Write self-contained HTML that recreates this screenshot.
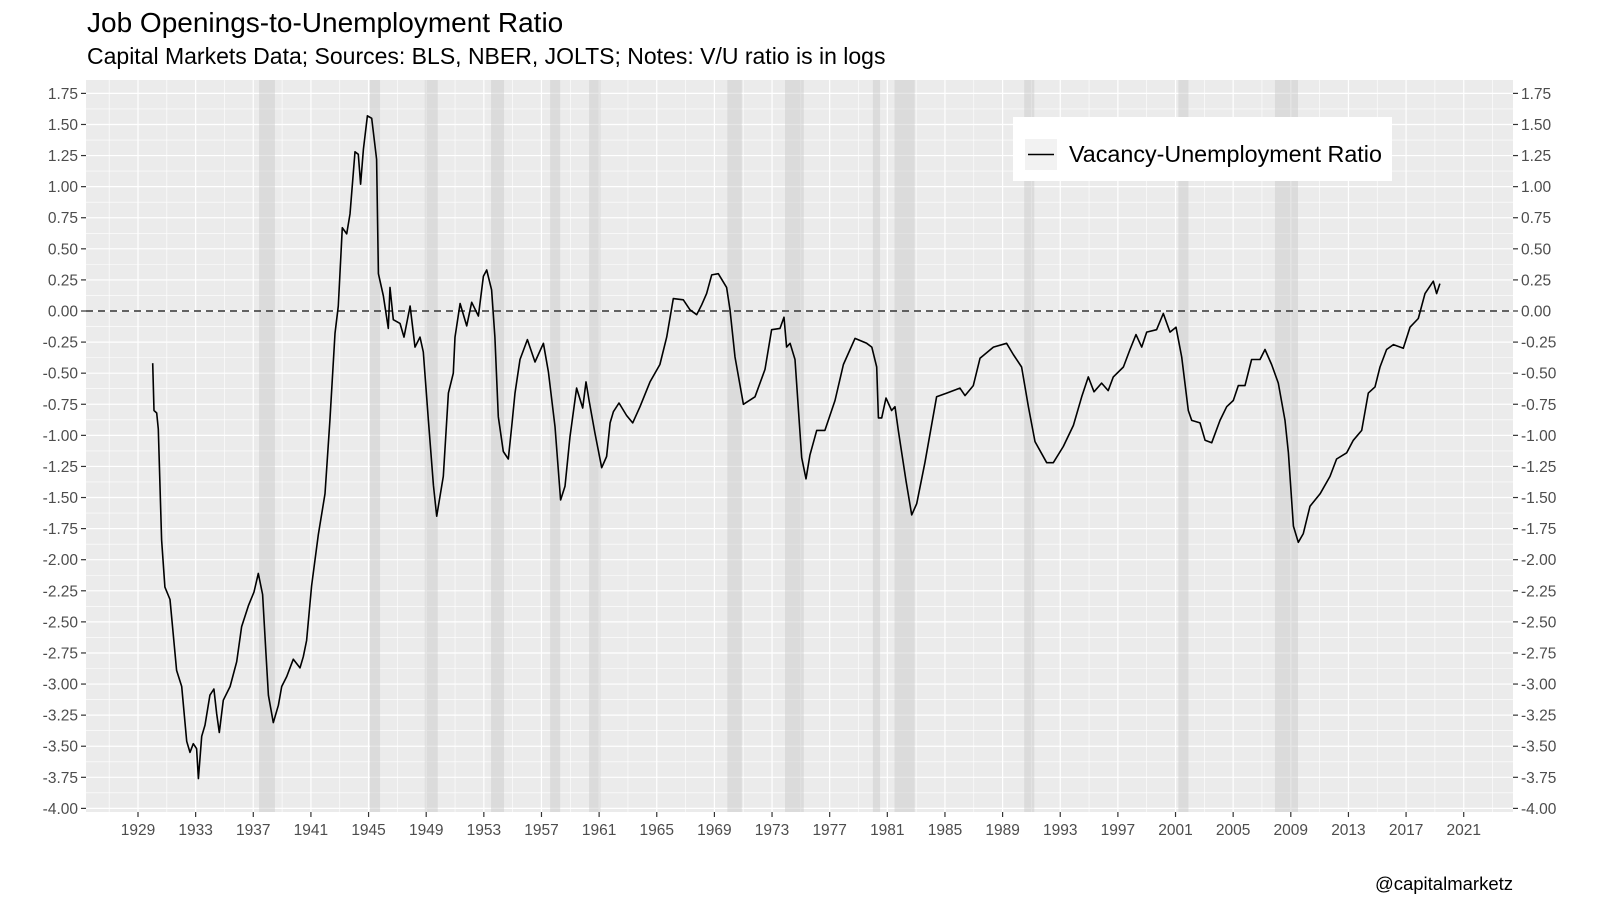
<!DOCTYPE html>
<html><head><meta charset="utf-8"><style>
html,body{margin:0;padding:0;background:#fff;}
svg{display:block;font-family:"Liberation Sans",Arial,sans-serif;}
</style></head><body>
<svg id="chart" width="1600" height="905" viewBox="0 0 1600 905" xmlns="http://www.w3.org/2000/svg">
<text x="87" y="32" font-size="28" fill="#000">Job Openings-to-Unemployment Ratio</text>
<text x="87" y="64" font-size="23" fill="#000">Capital Markets Data; Sources: BLS, NBER, JOLTS; Notes: V/U ratio is in logs</text>
<rect x="86" y="80" width="1427" height="732" fill="#ebebeb"/>
<g id="grid"></g>
<g id="rec"></g>
<line x1="86" x2="1513" y1="311" y2="311" stroke="#333" stroke-width="1.5" stroke-dasharray="7,5"/>
<path id="series" fill="none" stroke="#000" stroke-width="1.6" stroke-linejoin="round"/>
<g id="axes"></g>
<g>
<rect x="1013" y="117" width="379" height="64" fill="#fff"/>
<rect x="1025" y="139" width="32" height="31" fill="#f2f2f2"/>
<line x1="1028" x2="1054" y1="154.5" y2="154.5" stroke="#000" stroke-width="1.6"/>
<text x="1069" y="162" font-size="23.3" fill="#000">Vacancy-Unemployment Ratio</text>
</g>
<text x="1513" y="890" font-size="18.5" text-anchor="end" fill="#000">@capitalmarketz</text>
</svg>
<script>
const years = [1930.02,1930.11,1930.3,1930.41,1930.64,1930.87,1931.22,1931.68,1932.03,1932.38,1932.61,1932.84,1933.07,1933.19,1933.42,1933.65,1933.99,1934.27,1934.46,1934.64,1934.92,1935.39,1935.85,1936.19,1936.66,1937.05,1937.35,1937.65,1937.88,1938.05,1938.39,1938.74,1938.97,1939.32,1939.78,1940.24,1940.47,1940.7,1941.05,1941.51,1941.98,1942.32,1942.67,1942.9,1943.18,1943.48,1943.71,1944.06,1944.29,1944.45,1944.64,1944.92,1945.22,1945.56,1945.68,1946.03,1946.37,1946.49,1946.72,1947.18,1947.46,1947.88,1948.22,1948.57,1948.8,1949.15,1949.5,1949.73,1950.19,1950.54,1950.88,1951.0,1951.35,1951.81,1952.16,1952.62,1952.97,1953.2,1953.54,1953.77,1954.0,1954.35,1954.7,1954.93,1955.16,1955.51,1956.02,1956.55,1957.13,1957.48,1957.94,1958.33,1958.63,1958.98,1959.44,1959.86,1960.09,1960.32,1960.71,1961.18,1961.52,1961.76,1961.99,1962.38,1962.91,1963.33,1963.84,1964.53,1965.22,1965.69,1966.15,1966.84,1967.31,1967.77,1968.12,1968.46,1968.81,1969.27,1969.85,1970.08,1970.43,1971.01,1971.82,1972.51,1972.97,1973.55,1973.83,1974.01,1974.25,1974.59,1975.06,1975.36,1975.63,1976.1,1976.67,1977.37,1977.95,1978.76,1979.57,1979.92,1980.26,1980.38,1980.61,1980.91,1981.3,1981.53,1981.76,1982.3,1982.69,1983.04,1983.61,1984.42,1985.12,1986.04,1986.39,1986.97,1987.43,1988.36,1989.28,1989.74,1990.32,1990.79,1991.25,1992.06,1992.52,1993.21,1993.91,1994.49,1994.95,1995.34,1995.87,1996.33,1996.68,1997.38,1997.84,1998.26,1998.65,1999.0,1999.69,2000.15,2000.62,2001.03,2001.43,2001.89,2002.12,2002.7,2003.05,2003.51,2004.09,2004.55,2005.01,2005.36,2005.82,2006.28,2006.86,2007.21,2007.67,2008.13,2008.6,2008.83,2009.18,2009.52,2009.87,2010.33,2011.03,2011.72,2012.18,2012.88,2013.34,2013.92,2014.38,2014.84,2015.19,2015.65,2016.12,2016.81,2017.27,2017.85,2018.31,2018.89,2019.12,2019.35];
const ratio = [-0.42,-0.8,-0.82,-0.95,-1.84,-2.22,-2.32,-2.89,-3.02,-3.46,-3.55,-3.48,-3.52,-3.76,-3.42,-3.33,-3.09,-3.04,-3.24,-3.39,-3.13,-3.02,-2.82,-2.54,-2.37,-2.26,-2.11,-2.28,-2.76,-3.09,-3.31,-3.17,-3.02,-2.94,-2.8,-2.87,-2.78,-2.65,-2.21,-1.8,-1.47,-0.88,-0.18,0.04,0.67,0.62,0.78,1.28,1.26,1.02,1.3,1.57,1.55,1.22,0.3,0.12,-0.14,0.19,-0.07,-0.1,-0.21,0.04,-0.29,-0.21,-0.33,-0.88,-1.4,-1.65,-1.33,-0.66,-0.5,-0.21,0.06,-0.12,0.07,-0.04,0.28,0.33,0.17,-0.21,-0.85,-1.13,-1.19,-0.93,-0.66,-0.39,-0.23,-0.41,-0.26,-0.49,-0.93,-1.52,-1.41,-1.01,-0.62,-0.78,-0.57,-0.73,-0.98,-1.26,-1.17,-0.9,-0.81,-0.74,-0.84,-0.9,-0.77,-0.57,-0.43,-0.21,0.1,0.09,0.01,-0.03,0.05,0.14,0.29,0.3,0.19,0.01,-0.37,-0.75,-0.69,-0.47,-0.15,-0.14,-0.05,-0.29,-0.26,-0.39,-1.18,-1.35,-1.16,-0.96,-0.96,-0.72,-0.43,-0.22,-0.26,-0.29,-0.45,-0.86,-0.86,-0.7,-0.8,-0.77,-0.96,-1.37,-1.64,-1.55,-1.22,-0.69,-0.66,-0.62,-0.68,-0.6,-0.38,-0.29,-0.26,-0.35,-0.45,-0.77,-1.05,-1.22,-1.22,-1.09,-0.92,-0.69,-0.53,-0.65,-0.58,-0.64,-0.53,-0.45,-0.31,-0.19,-0.29,-0.17,-0.15,-0.02,-0.17,-0.13,-0.37,-0.8,-0.88,-0.9,-1.04,-1.06,-0.88,-0.77,-0.72,-0.6,-0.6,-0.39,-0.39,-0.31,-0.43,-0.58,-0.88,-1.14,-1.73,-1.86,-1.79,-1.57,-1.47,-1.33,-1.19,-1.14,-1.04,-0.96,-0.66,-0.61,-0.45,-0.31,-0.27,-0.3,-0.13,-0.06,0.14,0.24,0.14,0.22];
const recStart = [1937.4,1945.1,1948.9,1953.5,1957.6,1960.3,1969.9,1973.9,1980.0,1981.5,1990.5,2001.2,2007.9];
const recEnd = [1938.5,1945.8,1949.8,1954.4,1958.3,1961.1,1970.9,1975.2,1980.5,1982.9,1991.2,2001.9,2009.5];
const xTicks = [1929,1933,1937,1941,1945,1949,1953,1957,1961,1965,1969,1973,1977,1981,1985,1989,1993,1997,2001,2005,2009,2013,2017,2021];
const yTicks = [1.75,1.5,1.25,1,0.75,0.5,0.25,0,-0.25,-0.5,-0.75,-1,-1.25,-1.5,-1.75,-2,-2.25,-2.5,-2.75,-3,-3.25,-3.5,-3.75,-4];

const NS='http://www.w3.org/2000/svg';
const L=86,R=1513,T=80,B=812;
const xs=y=>138+(y-1929)*14.41;
const ys=v=>311-v*124.35;
function mk(tag,attrs,parent){const e=document.createElementNS(NS,tag);for(const k in attrs)e.setAttribute(k,attrs[k]);parent.appendChild(e);return e;}
const grid=document.getElementById('grid'),rec=document.getElementById('rec'),axes=document.getElementById('axes');
for(let yr=1927;yr<=2023;yr+=4){const x=xs(yr);if(x<L||x>R)continue;
 const l=mk('line',{x1:x,x2:x,y1:T,y2:B,stroke:'#fff','stroke-width':0.6},grid);
 
 }
for(let i=0;i<yTicks.length-1;i++){const y=ys(yTicks[i]-0.125);
 const l=mk('line',{x1:L,x2:R,y1:y,y2:y,stroke:'#fff','stroke-width':0.6},grid);
 
 }
for(const yr of xTicks){const x=xs(yr);
 const l=mk('line',{x1:x,x2:x,y1:T,y2:B,stroke:'#fff','stroke-width':1.2},grid);
 
 }
for(const v of yTicks){const y=ys(v);
 const l=mk('line',{x1:L,x2:R,y1:y,y2:y,stroke:'#fff','stroke-width':1.2},grid);
 
 }
for(let i=0;i<recStart.length;i++){
 const r=mk('rect',{x:xs(recStart[i]),y:T,width:xs(recEnd[i])-xs(recStart[i]),height:B-T,fill:'#c8c8c8','fill-opacity':0.45},rec);
 
 }
let d='';for(let i=0;i<years.length;i++){d+=(i?'L':'M')+xs(years[i]).toFixed(1)+' '+ys(ratio[i]).toFixed(1);}
document.getElementById('series').setAttribute('d',d);
for(const yr of xTicks){const x=xs(yr);
 const t=mk('line',{x1:x,x2:x,y1:B,y2:B+5,stroke:'#333','stroke-width':1.2},axes);
 
 
 const tx=mk('text',{x:x,y:835,'font-size':15.5,'text-anchor':'middle',fill:'#4d4d4d'},axes);tx.textContent=yr;
 
 }
for(const v of yTicks){const y=ys(v);const lab=v.toFixed(2);
 const t1=mk('line',{x1:L-5,x2:L,y1:y,y2:y,stroke:'#333','stroke-width':1.2},axes);
 
 
 const t2=mk('line',{x1:R,x2:R+5,y1:y,y2:y,stroke:'#333','stroke-width':1.2},axes);
 
 
 const a=mk('text',{x:L-8,y:y+5.5,'font-size':15.5,'text-anchor':'end',fill:'#4d4d4d'},axes);a.textContent=lab;
 
 
 const b=mk('text',{x:R+8,y:y+5.5,'font-size':15.5,'text-anchor':'start',fill:'#4d4d4d'},axes);b.textContent=lab;
 
 }
</script>
</body></html>
